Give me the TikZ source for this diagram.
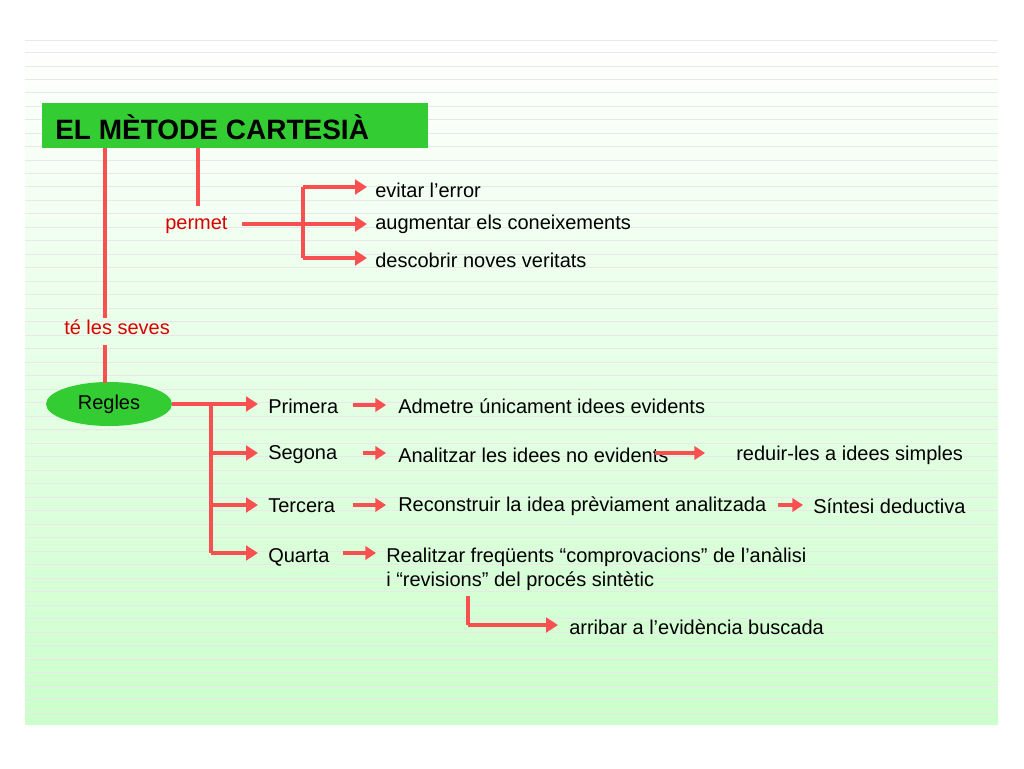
\documentclass[tikz,border=0pt]{standalone}
\usepackage{fontspec}
\setmainfont{Liberation Sans}
\usetikzlibrary{arrows.meta,shapes.geometric}
\definecolor{lred}{HTML}{F85050}
\definecolor{tgreen}{HTML}{33CC33}
\definecolor{bgg}{HTML}{CCFFCC}
\begin{document}
\begin{tikzpicture}[x=0.75pt,y=-0.75pt,
  ln/.style={draw=lred,line width=3pt},
  ar/.style={ln,-{Triangle[length=9pt,width=11pt]}},
  sar/.style={ln,-{Triangle[length=8pt,width=10pt]}},
  txt/.style={anchor=west,font=\fontsize{15}{18}\selectfont,inner sep=0pt},
  rtxt/.style={txt,text=red!85!black}]
\useasboundingbox (0,0) rectangle (1024,768);
\shade[top color=white,bottom color=bgg] (25,38) rectangle (998,724);
\foreach \y in {40,52,66,79,92,106,119,133,146,160,173,186,200,213,227,240,254,267,281,294,308,321,335,348,362,375,389,402,416,429,443,456,470,483,497,510,524,537,551,564,578,591,605,618,632,645,659,672,686,699,712}
  \draw[gray!18,line width=0.5pt] (25,\y) -- (998,\y);
\node[fill=tgreen,minimum width=386*0.75pt,minimum height=45*0.75pt,inner sep=0pt] (title) at (235,125.5) {};
\node[anchor=west,inner sep=0pt,font=\fontsize{21}{24}\selectfont\bfseries] (tt) at (55,127) {EL MÈTODE CARTESIÀ};
% permet branch
\node[rtxt] (permet) at (165,225) {permet};
\coordinate (p0) at (198,148);
\coordinate (p1) at (198,206);
\draw[ln] (p0) -- (p1);
\coordinate (pa) at (242,224);
\coordinate (pj) at (303,224);
\node[txt] (e1) at (375,190) {evitar l’error};
\node[txt] (e2) at (375,224) {augmentar els coneixements};
\node[txt] (e3) at (375,260) {descobrir noves veritats};
\draw[ln] (pa) -- (pj);
\draw[ln] (303,187) -- (303,258);
\draw[ar] (303,187) -- (367,187);
\draw[ar] (303,224) -- (367,224);
\draw[ar] (303,258) -- (367,258);
% te les seves
\node[rtxt] (te) at (64,327) {té les seves};
\draw[ln] (105,148) -- (105,318);
\node[ellipse,fill=tgreen,minimum width=126*0.75pt,minimum height=44*0.75pt,inner sep=0pt,font=\fontsize{15}{18}\selectfont] (regles) at (109,404) {Regles};
\draw[ln] (105,345) -- (105,383);
\draw[ln] (regles.east) -- (211,404);
\draw[ln] (211,404) -- (211,553);
\node[txt] (r1) at (268,406) {Primera};
\node[txt] (r2) at (268,455) {Segona};
\node[txt] (r3) at (268,506) {Tercera};
\node[txt] (r4) at (268,557) {Quarta};
\foreach \y in {404,453,505,553} \draw[ar] (211,\y) -- (258,\y);
\node[txt] (a1) at (398,406) {Admetre únicament idees evidents};
\node[txt] (a2) at (398,455) {Analitzar les idees no evidents};
\node[txt] (a3) at (398,506) {Reconstruir la idea prèviament analitzada};
\node[txt,align=left,anchor=north west] (a4) at (386,547) {Realitzar freqüents “comprovacions” de l’anàlisi\\i “revisions” del procés sintètic};
\draw[sar] (353,405) -- (386,405);
\draw[sar] (363,453) -- (386,453);
\draw[sar] (353,505) -- (386,505);
\draw[sar] (343,553) -- (376,553);
\node[txt] (b2) at (736,455) {reduir-les a idees simples};
\node[txt] (b3) at (813,506) {Síntesi deductiva};
\draw[sar] (655,453) -- (705,453);
\draw[sar] (778,505) -- (803,505);
\node[txt] (c4) at (569,627) {arribar a l’evidència buscada};
\draw[ln] (468,596) -- (468,625);
\draw[ar] (468,625) -- (558,625);
\end{tikzpicture}
\end{document}
